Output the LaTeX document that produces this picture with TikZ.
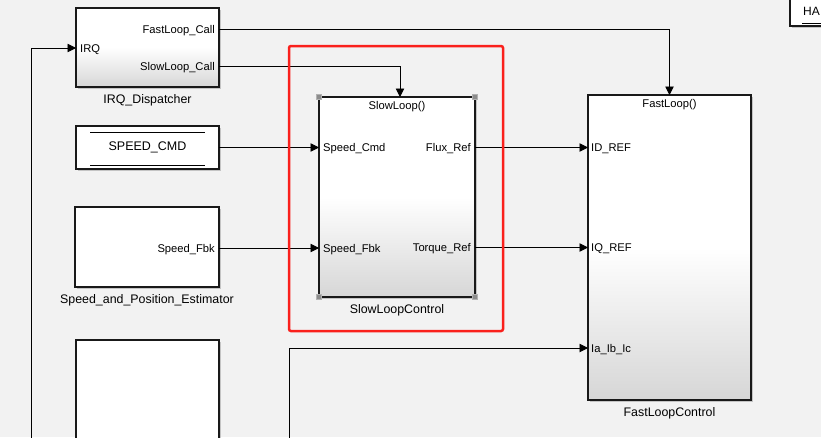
\documentclass[tikz,border=0pt]{standalone}
\usepackage{fontspec}
\setmainfont{Liberation Sans}
\usepackage{xcolor}
\usetikzlibrary{arrows.meta,positioning,shadows}
\definecolor{canvas}{RGB}{242,242,242}
\definecolor{selred}{RGB}{250,32,28}

\begin{document}
\begin{tikzpicture}[x=1pt,y=-1pt,
  blk/.style={draw=black!90,inner sep=0pt,outer sep=0pt,
              drop shadow={shadow xshift=2pt,shadow yshift=-2pt,opacity=.4}},
  grad/.style={top color=white,bottom color=black!16,middle color=white},
  plbl/.style={font=\fontsize{11.2}{13}\selectfont,inner sep=0pt},
  bname/.style={font=\fontsize{12.4}{14}\selectfont,inner sep=0pt,
                text height=9pt,text depth=3pt},
  wire/.style={draw=black,line width=0.9pt},
  arr/.style={wire,-{Triangle[length=8.5pt,width=8.5pt]}},
  sel/.style={draw=selred,line width=2.5pt,rounded corners=2pt},
  handle/.style={draw=black!30,fill=black!45,line width=0.8pt,
                 minimum size=5pt,inner sep=0pt}
]
\useasboundingbox (0,0) rectangle (821,437);
\clip (0,0) rectangle (821,437);
\fill[canvas] (0,0) rectangle (821,437);

% blocks
\node[blk,grad,line width=1.4pt,minimum width=143pt,minimum height=79pt]
  (disp) at (147.5,47.5) {};
\node[blk,fill=white,line width=1.1pt,minimum width=143pt,minimum height=43pt,
      font=\fontsize{12.5}{14}\selectfont] (cmd) at (147.5,147.5) {SPEED\_CMD};
\node[blk,fill=white,line width=2.2pt,minimum width=144pt,minimum height=80pt]
  (est) at (147,247) {};
\node[blk,fill=white,line width=1.1pt,minimum width=143pt,minimum height=120pt]
  (blank) at (147.5,400) {};
\node[blk,grad,line width=2.8pt,minimum width=156pt,minimum height=200pt]
  (slow) at (397,197) {};
\node[blk,grad,line width=2.2pt,minimum width=163pt,minimum height=305pt]
  (fast) at (669.5,247.5) {};
\node[blk,fill=white,line width=1.1pt,minimum width=80pt,minimum height=40pt]
  (hal) at (830,6) {};

% constant block bars
\draw[line width=0.7pt] ([xshift=14pt,yshift=-6pt]cmd.north west)
  -- ([xshift=-14pt,yshift=-6pt]cmd.north east);
\draw[line width=0.7pt] ([xshift=14pt,yshift=4pt]cmd.south west)
  -- ([xshift=-14pt,yshift=4pt]cmd.south east);
\node[plbl,font=\fontsize{12}{14}\selectfont,anchor=base west] (haltxt) at (803,15) {HA};
\draw[line width=0.7pt] (802,23) -- (hal.south east |- 0,23);

% selection handles
\foreach \c in {north west,north east,south west,south east}
  \node[handle] at (slow.\c) {};

% block names
\node[bname,below=7pt of disp] (dispname) {IRQ\_Dispatcher};
\node[bname,below=7pt of est] (estname) {Speed\_and\_Position\_Estimator};
\node[bname,below=7pt of slow] (slowname) {SlowLoopControl};
\node[bname,below=7pt of fast] (fastname) {FastLoopControl};

% ports
\coordinate (disp-irq)  at (76,48);
\coordinate (disp-fast) at (219,29);
\coordinate (disp-slow) at (219,66);
\coordinate (est-fbk)   at (219,248);
\coordinate (slow-trig) at (400,97);
\coordinate (slow-cmd)  at (319,147.5);
\coordinate (slow-fbk)  at (319,248);
\coordinate (slow-flux) at (475,147.5);
\coordinate (slow-torq) at (475,247.5);
\coordinate (fast-id)   at (588,147.5);
\coordinate (fast-iq)   at (588,247.5);
\coordinate (fast-iabc) at (588,348);
\coordinate (irqsrc)    at (31,445);
\coordinate (iabcsrc)   at (289,445);

\node[plbl,anchor=base west] (irqlbl) at ([xshift=4pt,yshift=-4pt]disp-irq) {IRQ};
\node[plbl,anchor=base east] (fcall) at ([xshift=-4pt,yshift=-4pt]disp-fast) {FastLoop\_Call};
\node[plbl,anchor=base east] (scall) at ([xshift=-4pt,yshift=-4pt]disp-slow) {SlowLoop\_Call};
\node[plbl,anchor=base east] (fbklbl) at ([xshift=-4pt,yshift=-4pt]est-fbk) {Speed\_Fbk};
\node[plbl,anchor=base] (slowtitle) at ([yshift=-12pt]slow.north) {SlowLoop()};
\node[plbl,anchor=base west] (cmdin) at ([xshift=4pt,yshift=-4pt]slow-cmd) {Speed\_Cmd};
\node[plbl,anchor=base west] (fbkin) at ([xshift=4pt,yshift=-4pt]slow-fbk) {Speed\_Fbk};
\node[plbl,anchor=base east] (fluxout) at ([xshift=-4pt,yshift=-4pt]slow-flux) {Flux\_Ref};
\node[plbl,anchor=base east] (torqout) at ([xshift=-4pt,yshift=-4pt]slow-torq) {Torque\_Ref};
\node[plbl,anchor=base] (fasttitle) at ([yshift=-12pt]fast.north) {FastLoop()};
\node[plbl,anchor=base west] (idin) at ([xshift=3pt,yshift=-4pt]fast-id) {ID\_REF};
\node[plbl,anchor=base west] (iqin) at ([xshift=3pt,yshift=-4pt]fast-iq) {IQ\_REF};
\node[plbl,anchor=base west] (iabcin) at ([xshift=3pt,yshift=-4pt]fast-iabc) {Ia\_Ib\_Ic};

% connections
\draw[arr] (irqsrc) |- (disp-irq);
\draw[arr] (disp-fast) -| (fast.north);
\draw[arr] (disp-slow) -| (slow-trig);
\draw[arr] (cmd.east) -- (slow-cmd);
\draw[arr] (est-fbk) -- (slow-fbk);
\draw[arr] (slow-flux) -- (fast-id);
\draw[arr] (slow-torq) -- (fast-iq);
\draw[arr] (iabcsrc) |- (fast-iabc);

% selection frame
\draw[sel] (289,46) rectangle (503,331);
\end{tikzpicture}
\end{document}
